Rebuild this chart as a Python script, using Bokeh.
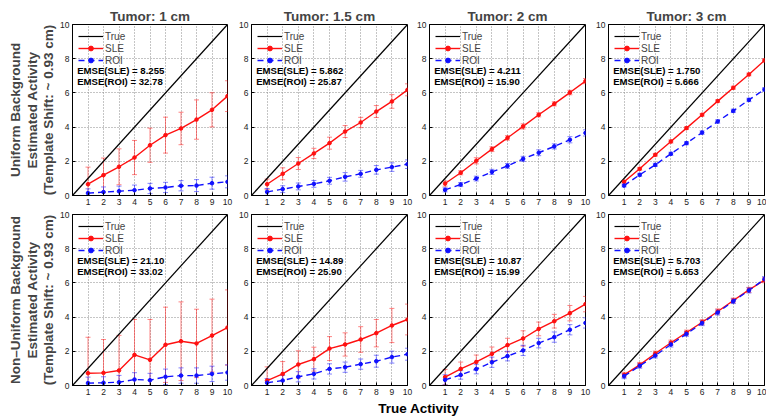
from bokeh.plotting import figure
from bokeh.layouts import column, row
from bokeh.models import Range1d, ColumnDataSource, Whisker, TeeHead, Legend, LegendItem, FixedTicker
from bokeh.core.properties import value
from bokeh.embed import file_html
from bokeh.resources import INLINE

FONT = "Liberation Sans"

activity = [1, 2, 3, 4, 5, 6, 7, 8, 9, 10]
true_x = [0, 10]
true_y = [0, 10]
titles = ["Tumor: 1 cm", "Tumor: 1.5 cm", "Tumor: 2 cm", "Tumor: 3 cm"]
row_labels = ["Uniform Background\nEstimated Activity\n(Template Shift: ~ 0.93 cm)",
              "Non\u2013Uniform Background\nEstimated Activity\n(Template Shift: ~ 0.93 cm)"]
x_ticks = [1, 2, 3, 4, 5, 6, 7, 8, 9, 10]
y_ticks = [0, 2, 4, 6, 8, 10]

# Uniform background
sle_u1 = [0.66, 1.19, 1.68, 2.22, 2.94, 3.53, 3.92, 4.44, 5.01, 5.81]
sle_u1_err = [1.00, 1.00, 1.05, 1.00, 1.00, 1.05, 0.95, 1.15, 1.00, 0.90]
roi_u1 = [0.14, 0.20, 0.25, 0.31, 0.41, 0.47, 0.57, 0.58, 0.72, 0.80]
roi_u1_err = [0.25, 0.30, 0.30, 0.30, 0.30, 0.30, 0.30, 0.35, 0.35, 0.35]

sle_u2 = [0.66, 1.27, 1.87, 2.46, 3.06, 3.74, 4.27, 4.91, 5.50, 6.18]
sle_u2_err = [0.30, 0.35, 0.35, 0.30, 0.35, 0.35, 0.30, 0.35, 0.40, 0.35]
roi_u2 = [0.21, 0.37, 0.53, 0.68, 0.86, 1.09, 1.27, 1.50, 1.66, 1.83]
roi_u2_err = [0.20, 0.20, 0.20, 0.20, 0.20, 0.25, 0.20, 0.25, 0.25, 0.25]

sle_u3 = [0.70, 1.33, 2.03, 2.71, 3.37, 4.04, 4.72, 5.36, 6.02, 6.69]
sle_u3_err = [0.15, 0.12, 0.18, 0.14, 0.13, 0.15, 0.12, 0.12, 0.13, 0.15]
roi_u3 = [0.33, 0.64, 0.99, 1.38, 1.73, 2.14, 2.50, 2.87, 3.26, 3.66]
roi_u3_err = [0.12, 0.12, 0.14, 0.15, 0.14, 0.15, 0.17, 0.15, 0.18, 0.18]

sle_u4 = [0.80, 1.56, 2.38, 3.16, 3.94, 4.72, 5.52, 6.30, 7.08, 7.90]
sle_u4_err = [0.08, 0.08, 0.08, 0.09, 0.08, 0.08, 0.08, 0.09, 0.08, 0.09]
roi_u4 = [0.58, 1.21, 1.79, 2.44, 3.06, 3.68, 4.33, 4.95, 5.59, 6.20]
roi_u4_err = [0.08, 0.09, 0.09, 0.09, 0.09, 0.10, 0.10, 0.10, 0.10, 0.10]

# Non-uniform background
sle_n1 = [0.72, 0.74, 0.88, 1.79, 1.50, 2.38, 2.59, 2.46, 2.92, 3.39]
sle_n1_err = [2.10, 1.95, 2.05, 2.07, 2.36, 2.20, 2.30, 2.00, 2.13, 2.20]
roi_n1 = [0.14, 0.16, 0.19, 0.35, 0.31, 0.51, 0.58, 0.58, 0.68, 0.76]
roi_n1_err = [0.35, 0.35, 0.40, 0.40, 0.40, 0.45, 0.45, 0.45, 0.45, 0.45]

sle_n2 = [0.29, 0.68, 1.23, 1.54, 2.16, 2.40, 2.69, 3.06, 3.51, 3.86]
sle_n2_err = [0.80, 0.72, 0.80, 0.70, 0.70, 0.68, 0.75, 0.80, 1.00, 0.90]
roi_n2 = [0.16, 0.29, 0.51, 0.68, 0.97, 1.07, 1.25, 1.42, 1.66, 1.83]
roi_n2_err = [0.25, 0.30, 0.30, 0.30, 0.30, 0.30, 0.30, 0.35, 0.35, 0.35]

sle_n3 = [0.49, 0.97, 1.38, 1.85, 2.36, 2.75, 3.31, 3.76, 4.23, 4.76]
sle_n3_err = [0.45, 0.40, 0.40, 0.40, 0.40, 0.45, 0.40, 0.40, 0.45, 0.45]
roi_n3 = [0.33, 0.62, 0.96, 1.36, 1.72, 2.05, 2.48, 2.83, 3.26, 3.66]
roi_n3_err = [0.30, 0.25, 0.28, 0.30, 0.28, 0.30, 0.28, 0.30, 0.30, 0.30]

sle_n4 = [0.62, 1.21, 1.87, 2.50, 3.10, 3.70, 4.33, 4.97, 5.59, 6.16]
sle_n4_err = [0.15, 0.14, 0.14, 0.15, 0.14, 0.15, 0.15, 0.14, 0.15, 0.15]
roi_n4 = [0.55, 1.15, 1.75, 2.40, 3.02, 3.65, 4.27, 4.93, 5.56, 6.22]
roi_n4_err = [0.15, 0.14, 0.14, 0.15, 0.14, 0.15, 0.15, 0.14, 0.15, 0.15]

emse_sle_u = ["8.255", "5.862", "4.211", "1.750"]
emse_roi_u = ["32.78", "25.87", "15.90", "5.666"]
emse_sle_n = ["21.10", "14.89", "10.87", "5.703"]
emse_roi_n = ["33.02", "25.90", "15.99", "5.653"]

RED = "#ff1010"
BLUE = "#1010ff"

panels = [
    [(sle_u1, sle_u1_err, roi_u1, roi_u1_err), (sle_u2, sle_u2_err, roi_u2, roi_u2_err),
     (sle_u3, sle_u3_err, roi_u3, roi_u3_err), (sle_u4, sle_u4_err, roi_u4, roi_u4_err)],
    [(sle_n1, sle_n1_err, roi_n1, roi_n1_err), (sle_n2, sle_n2_err, roi_n2, roi_n2_err),
     (sle_n3, sle_n3_err, roi_n3, roi_n3_err), (sle_n4, sle_n4_err, roi_n4, roi_n4_err)],
]
emse = [(emse_sle_u, emse_roi_u), (emse_sle_n, emse_roi_n)]

col_left = [72, 18, 16, 17]
col_frame = [155, 156, 156, 156]
col_right = [6, 6, 6, 2]
row_top = [24, 5]
row_bottom = [14, 14]


def make_panel(r, c):
    sle, sle_err, roi, roi_err = panels[r][c]
    p = figure(frame_width=col_frame[c], frame_height=171,
               min_border_left=col_left[c], min_border_right=col_right[c],
               min_border_top=row_top[r], min_border_bottom=row_bottom[r],
               x_range=Range1d(0, 10), y_range=Range1d(0, 10),
               output_backend="svg", toolbar_location=None,
               title=titles[c] if r == 0 else None)
    if r == 0:
        p.title.text_font = FONT
        p.title.text_font_size = "13.5px"
        p.title.text_font_style = "bold"
        p.title.align = "center"
        p.title.standoff = 2
    p.outline_line_color = "black"
    p.outline_line_width = 1
    p.background_fill_color = "white"
    p.border_fill_color = "white"
    for ax in (p.xaxis, p.yaxis):
        ax.major_label_text_font = FONT
        ax.major_label_text_font_size = "8.5px"
        ax.major_label_text_color = "#222222"
        ax.major_tick_in = 3
        ax.major_tick_out = 0
        ax.minor_tick_line_color = None
        ax.axis_line_color = "black"
        ax.major_label_standoff = 3
    p.xaxis.ticker = FixedTicker(ticks=x_ticks)
    p.yaxis.ticker = FixedTicker(ticks=y_ticks)
    p.xgrid.ticker = FixedTicker(ticks=x_ticks)
    p.ygrid.ticker = FixedTicker(ticks=y_ticks)
    for g in (p.xgrid, p.ygrid):
        g.grid_line_color = "#8a8a8a"
        g.grid_line_dash = "1 2"
        g.grid_line_width = 1
    if c == 0:
        p.yaxis.axis_label = row_labels[r]
        p.yaxis.axis_label_text_font = FONT
        p.yaxis.axis_label_text_font_size = "13.5px"
        p.yaxis.axis_label_text_font_style = "bold"
        p.yaxis.axis_label_text_line_height = 1.1
        p.yaxis.axis_label_standoff = 1

    src = ColumnDataSource(dict(x=activity, sle=sle,
                                sle_lo=[v - e for v, e in zip(sle, sle_err)],
                                sle_hi=[v + e for v, e in zip(sle, sle_err)],
                                roi=roi,
                                roi_lo=[v - e for v, e in zip(roi, roi_err)],
                                roi_hi=[v + e for v, e in zip(roi, roi_err)]))

    r_true = p.line(true_x, true_y, line_color="black", line_width=1.2)

    w1 = Whisker(base="x", lower="sle_lo", upper="sle_hi", source=src,
                 line_color=RED, line_alpha=0.5, line_width=1,
                 upper_head=TeeHead(size=5, line_color=RED, line_alpha=0.5),
                 lower_head=TeeHead(size=5, line_color=RED, line_alpha=0.5))
    w2 = Whisker(base="x", lower="roi_lo", upper="roi_hi", source=src,
                 line_color=BLUE, line_alpha=0.5, line_width=1,
                 upper_head=TeeHead(size=5, line_color=BLUE, line_alpha=0.5),
                 lower_head=TeeHead(size=5, line_color=BLUE, line_alpha=0.5))
    p.add_layout(w1)
    p.add_layout(w2)

    r_sle_l = p.line("x", "sle", source=src, line_color=RED, line_width=1.4)
    r_sle_m = p.scatter("x", "sle", source=src, size=3.6, color=RED)
    r_roi_l = p.line("x", "roi", source=src, line_color=BLUE, line_width=1.4, line_dash="6 4")
    r_roi_m = p.scatter("x", "roi", source=src, size=3.6, color=BLUE)

    legend = Legend(items=[LegendItem(label="True", renderers=[r_true]),
                           LegendItem(label="SLE", renderers=[r_sle_l, r_sle_m]),
                           LegendItem(label="ROI", renderers=[r_roi_l, r_roi_m])],
                    location="top_left", margin=6, padding=1, spacing=0,
                    glyph_width=25, glyph_height=12, label_height=12,
                    label_standoff=2, label_text_font=FONT, label_text_font_size="10px",
                    label_text_line_height=1.0,
                    background_fill_alpha=0, border_line_color=None)
    p.add_layout(legend)

    es, er = emse[r]
    tsrc = ColumnDataSource(dict(x=[0.3, 0.3], y=[7.3, 6.67],
                                 t=["EMSE(SLE) = " + es[c], "EMSE(ROI) = " + er[c]]))
    p.text("x", "y", text="t", source=tsrc, text_font=value(FONT), text_font_size="9.6px",
           text_font_style="bold", text_baseline="middle", text_align="left", text_color="black")
    return p


rows = []
for r in range(2):
    rows.append(row(*[make_panel(r, c) for c in range(4)]))

strip = figure(width=766, height=19, x_range=Range1d(0, 1), y_range=Range1d(0, 1),
               output_backend="svg", toolbar_location=None, min_border=0)
strip.axis.visible = False
strip.grid.visible = False
strip.outline_line_color = None
strip.text(x=[0.546], y=[0.55], text=["True Activity"], text_font=value(FONT),
           text_font_size="13.5px", text_font_style="bold", text_align="center",
           text_baseline="middle", text_color="black")

layout = column(rows[0], rows[1], strip)
open("out.html", "w").write(file_html(layout, INLINE))
